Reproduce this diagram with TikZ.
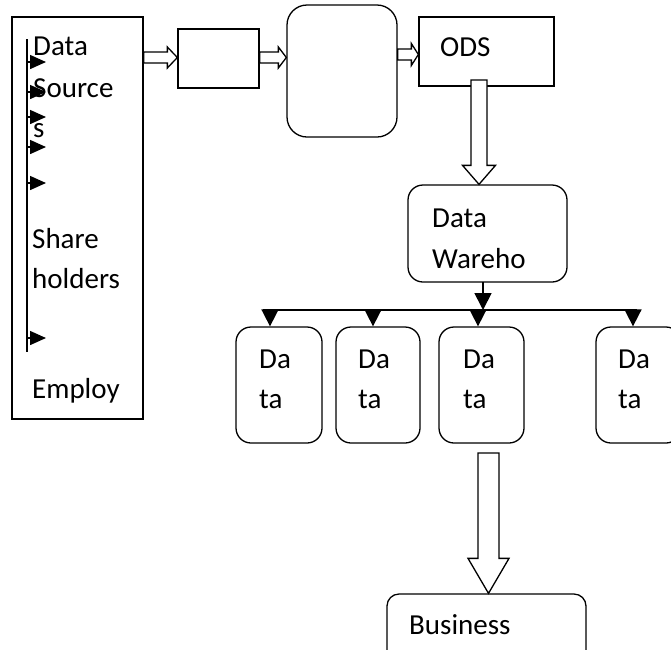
\documentclass[tikz,border=0pt]{standalone}
\usepackage{fontspec}
\setmainfont{Carlito}
\usetikzlibrary{arrows.meta,calc}

% hollow block arrow: #1 start, #2 tip, #3 shaft half width, #4 head half width, #5 head length (pt)
\newcommand\blockarr[5]{%
  \draw[blockarrow] let \p1=#1, \p2=#2,
      \n1={veclen(\x2-\x1,\y2-\y1)}, \n2={atan2(\y2-\y1,\x2-\x1)} in
      [shift={(\p1)}, rotate=\n2]
      (0pt,#3pt) -- ({\n1-#5pt},#3pt) -- ({\n1-#5pt},#4pt) -- (\n1,0pt)
      -- ({\n1-#5pt},-#4pt) -- ({\n1-#5pt},-#3pt) -- (0pt,-#3pt) -- cycle;}

\tikzset{
  box/.style={draw, line width=1.3pt, fill=white, inner sep=0pt},
  rbox/.style={box, rounded corners=15pt},
  txt/.style={anchor=base west, inner sep=0pt, font=\fontsize{29}{35}\selectfont},
  blockarrow/.style={draw, line width=1.3pt, fill=white, line join=miter},
  conn/.style={line width=1.7pt},
  tri/.style={conn, -{Triangle[length=17pt,width=17pt]}},
  stub/.style={line width=1.5pt, -{Triangle[length=16pt,width=14pt]}},
}

\begin{document}
\begin{tikzpicture}[x=1pt, y=-1pt]
\useasboundingbox (0,0) rectangle (671,649);

% boxes
\node[box, minimum width=131pt, minimum height=402pt] (src) at (77.5,218) {};
\node[box, minimum width=81pt, minimum height=59pt] (stage) at (218.5,58.5) {};
\node[box, rounded corners=20pt, minimum width=110pt, minimum height=132pt] (proc) at (342,71) {};
\node[box, minimum width=135pt, minimum height=69pt] (ods) at (486.5,51.5) {};
\node[rbox, minimum width=159pt, minimum height=97pt] (dw) at (487.5,233.5) {};
\node[rbox, minimum width=86pt, minimum height=116pt] (m1) at (279,385) {};
\node[rbox, minimum width=84pt, minimum height=116pt] (m2) at (378,385) {};
\node[rbox, minimum width=85pt, minimum height=116pt] (m3) at (481.5,385) {};
\node[rbox, minimum width=85pt, minimum height=116pt] (m4) at (638.5,385) {};
\node[box, rounded corners=12pt, minimum width=199pt, minimum height=86pt] (biz) at (486.5,637) {};

% source list rail with its small arrows
\coordinate (railtop) at (27,39);
\coordinate (railbot) at (27,352);
\draw[line width=1.5pt] (railtop) -- (railbot);
\foreach \yy [count=\i] in {62,92,117,147,183,338} {
  \coordinate (s\i) at (27,\yy);
  \draw[stub] (s\i) -- ++(19,0);
}

% texts
\node[txt] (t1) at (33,55) {Data};
\node[txt] (t2) at (33,97) {Source};
\node[txt] (t3) at (33,137) {s};
\node[txt] (t4) at (32,248) {Share};
\node[txt] (t5) at (32,288) {holders};
\node[txt] (t6) at (32,398) {Employ};
\node[txt] (t7) at (440,56) {ODS};
\node[txt] (t8) at (432,227) {Data};
\node[txt] (t9) at (432,268) {Wareho};
\foreach \m/\xx in {m1/259, m2/358, m3/463, m4/618} {
  \node[txt] (\m a) at (\xx,368) {Da};
  \node[txt] (\m b) at (\xx,408) {ta};
}
\node[txt] (t10) at (409,634) {Business};

% hollow arrows along the top row
\coordinate (a1s) at (src.east |- 0,57.5);
\coordinate (a1e) at (stage.west |- 0,57.5);
\blockarr{(a1s)}{(a1e)}{5.5}{10.5}{10}
\coordinate (a2s) at (stage.east |- 0,57.5);
\coordinate (a2e) at (proc.west |- 0,57.5);
\blockarr{(a2s)}{(a2e)}{5.5}{10.5}{8}
\coordinate (a3s) at (proc.east |- 0,54.5);
\coordinate (a3e) at (ods.west |- 0,54.5);
\blockarr{(a3s)}{(a3e)}{5.5}{11}{7}

% ODS down to the warehouse
\coordinate (a4s) at (479,80);
\coordinate (a4e) at (a4s |- dw.north);
\blockarr{(a4s)}{(a4e)}{8}{16.5}{19}

% warehouse to the marts
\coordinate (dwout) at (483,282);
\coordinate (busL) at (263,310);
\coordinate (busR) at (637,310);
\draw[tri] (dwout) -- (dwout |- busL);
\draw[conn] (busL) -- (busR);
\foreach \m/\xx in {m1/270, m2/373, m3/478, m4/633} {
  \coordinate (d\m) at (\xx,310);
  \draw[tri] (d\m) -- (d\m |- \m.north);
}

% mart down to business
\coordinate (a5s) at (488.5,453);
\coordinate (a5e) at (a5s |- biz.north);
\blockarr{(a5s)}{(a5e)}{10.5}{20.5}{35}
\end{tikzpicture}
\end{document}
